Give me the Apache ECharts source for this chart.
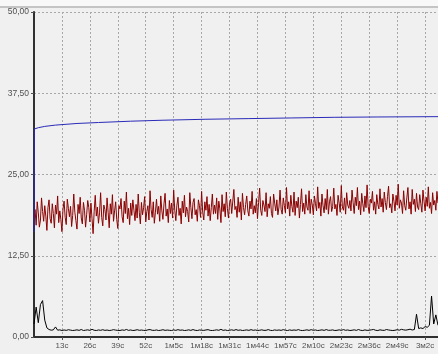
<!DOCTYPE html>
<html><head><meta charset="utf-8">
<script src="https://cdn.jsdelivr.net/npm/echarts@6/dist/echarts.min.js"></script>
<style>html,body{margin:0;padding:0;background:#f0f0f0;overflow:hidden}#c{width:438px;height:354px}</style>
</head><body><div id="c"></div>
<script>
const redStep = 0.5;   // seconds between red samples
const blackStep = 1;   // seconds between black samples
const yTicks = [0, 12.5, 25, 37.5, 50];
const xTickSeconds = [13, 26, 39, 52, 65, 78, 91, 104, 117, 130, 143, 156, 169, 182];

const blueTimes = [0, 0.15, 2, 5, 10, 20, 30, 45, 60, 80, 100, 120, 140, 160, 188];
const blueValues = [16.2, 32.0, 32.2, 32.4, 32.6, 32.85, 33.0, 33.2, 33.35, 33.5, 33.6, 33.7, 33.8, 33.85, 33.9];

const redValues = [
18.4, 19.6, 17.2, 20.8, 19.1, 16.9, 18.0, 21.4, 19.3, 17.8, 20.2, 18.6, 16.4, 19.9, 21.1, 18.2, 17.5, 20.5, 19.0, 16.8,
20.3, 18.9, 21.7, 17.6, 19.4, 18.1, 16.2, 19.7, 20.9, 18.4, 17.3, 21.2, 19.8, 18.5, 20.1, 17.0, 18.7, 22.0, 19.2, 17.9,
16.6, 20.4, 19.0, 21.5, 18.3, 17.4, 20.7, 19.5, 16.9, 18.8, 21.0, 19.9, 17.7, 20.6, 18.2, 15.9, 19.3, 21.8, 18.6, 20.0,
17.5, 19.1, 22.2, 18.4, 17.1, 20.3, 19.6, 18.0, 21.4, 19.2, 16.8, 20.5, 18.9, 21.9, 17.8, 19.4, 20.8, 18.1, 16.7, 20.2,
19.7, 21.3, 18.5, 17.6, 20.9, 19.0, 22.3, 18.2, 19.8, 17.3, 20.6, 18.7, 21.1, 19.5, 17.9, 20.4, 18.3, 22.0, 19.1, 17.4,
20.7, 18.8, 19.9, 21.6, 17.7, 19.3, 20.2, 18.0, 22.5, 19.6, 18.4, 20.8, 17.5, 19.2, 21.2, 18.9, 20.1, 17.8, 21.7, 19.4,
18.1, 20.5, 22.1, 18.6, 19.7, 17.6, 21.0, 19.0, 20.6, 18.3, 22.6, 19.5, 17.9, 20.3, 21.5, 18.7, 19.8, 17.4, 20.9, 19.1,
21.8, 18.5, 20.0, 19.3, 17.7, 22.2, 19.9, 18.2, 20.7, 21.3, 18.8, 19.6, 17.8, 21.1, 20.2, 18.4, 22.4, 19.2, 18.0, 20.8,
19.5, 21.6, 18.6, 20.4, 17.9, 19.9, 22.0, 18.9, 20.3, 19.0, 21.4, 18.1, 20.9, 19.7, 17.6, 21.9, 19.3, 20.5, 18.5, 22.3,
19.8, 18.3, 20.6, 21.2, 19.0, 18.7, 22.7, 19.6, 20.1, 18.4, 21.5, 19.2, 20.8, 18.0, 22.1, 19.9, 18.8, 20.4, 21.7, 19.4,
18.6, 20.9, 19.7, 22.4, 18.9, 20.2, 19.1, 21.3, 18.2, 20.7, 22.9, 19.5, 18.7, 21.0, 20.3, 19.3, 22.2, 18.5, 20.5, 19.8,
21.6, 19.0, 18.4, 22.0, 20.6, 19.4, 21.1, 18.8, 20.0, 22.6, 19.6, 18.9, 21.4, 20.2, 19.1, 23.0, 19.7, 20.8, 18.6, 21.8,
20.1, 19.2, 22.3, 18.7, 20.9, 19.9, 21.5, 18.3, 20.4, 22.8, 19.3, 20.6, 18.9, 21.9, 20.0, 19.5, 22.5, 19.0, 21.2, 20.3,
18.8, 21.7, 20.5, 19.4, 23.1, 19.8, 20.7, 18.6, 22.0, 20.2, 19.1, 21.3, 19.6, 22.7, 18.9, 20.8, 21.6, 19.3, 20.1, 22.9,
19.7, 20.4, 18.7, 21.8, 20.6, 19.2, 23.3, 20.0, 19.5, 21.4, 18.9, 22.2, 20.3, 19.8, 21.0, 19.4, 22.6, 20.7, 19.0, 21.5,
20.2, 23.0, 19.6, 20.9, 18.8, 22.1, 20.5, 19.3, 21.7, 19.9, 23.4, 20.1, 19.0, 21.2, 20.6, 22.4, 19.5, 20.8, 18.9, 21.9,
20.4, 19.7, 22.8, 20.0, 21.3, 19.2, 22.3, 20.7, 19.6, 21.6, 23.2, 19.9, 20.5, 19.1, 22.0, 20.9, 19.4, 21.8, 20.3, 23.5,
19.8, 21.1, 20.6, 19.0, 22.5, 20.2, 19.5, 21.4, 23.0, 19.7, 20.8, 18.9, 22.7, 20.4, 21.2, 19.3, 22.1, 20.0, 19.6, 21.9,
20.5, 19.2, 22.6, 20.9, 19.4, 21.5, 20.1, 23.1, 19.8, 20.7, 19.0, 22.2, 20.3, 21.0, 19.5, 22.4, 20.6
];

const blackValues = [
2.0, 4.6, 2.2, 5.0, 5.6, 2.6, 1.4, 1.15, 1.05, 1.1, 1.55, 1.05, 1.1, 1.0, 1.08, 1.02, 1.12, 1.06, 1.0, 1.04,
1.1, 1.02, 1.15, 1.0, 1.05, 1.1, 1.02, 1.18, 1.04, 1.0, 1.08, 1.03, 1.12, 1.02, 1.07, 1.0, 1.04, 1.13, 1.06, 1.02,
1.0, 1.09, 1.03, 1.16, 1.02, 1.08, 1.0, 1.04, 1.12, 1.03, 1.07, 1.02, 1.0, 1.1, 1.14, 1.03, 1.02, 1.08, 1.0, 1.04,
1.12, 1.02, 1.07, 1.03, 1.0, 1.09, 1.02, 1.13, 1.04, 1.08, 1.0, 1.03, 1.1, 1.02, 1.14, 1.03, 1.0, 1.08, 1.04, 1.02,
1.08, 1.13, 1.02, 1.0, 1.04, 1.1, 1.03, 1.18, 1.02, 1.08, 1.0, 1.04, 1.1, 1.02, 1.14, 1.03, 1.08, 1.0, 1.04, 1.09,
1.02, 1.13, 1.03, 1.08, 1.0, 1.04, 1.1, 1.02, 1.03, 1.14, 1.02, 1.0, 1.09, 1.03, 1.08, 1.02, 1.13, 1.04, 1.0, 1.09,
1.02, 1.08, 1.03, 1.14, 1.02, 1.0, 1.04, 1.1, 1.02, 1.13, 1.03, 1.08, 1.0, 1.04, 1.1, 1.02, 1.14, 1.03, 1.04, 1.09,
1.0, 1.03, 1.1, 1.02, 1.14, 1.03, 1.08, 1.0, 1.04, 1.1, 1.02, 1.15, 1.03, 1.0, 1.09, 1.02, 1.04, 1.1, 1.16, 1.03,
1.0, 1.1, 1.04, 1.02, 1.15, 1.08, 1.03, 1.0, 1.04, 1.12, 1.05, 1.18, 1.1, 1.06, 1.12, 1.2, 1.08, 1.15, 3.5, 1.3,
1.4, 1.3, 1.6, 1.5, 1.8, 6.3, 2.0, 3.4, 1.8
];

function fmtTime(v) {
  if (v <= 0 || xTickSeconds.indexOf(Math.round(v)) < 0) return '';
  const m = Math.floor(v / 60), s = Math.round(v - m * 60);
  return m > 0 ? m + 'м' + s + 'с' : s + 'с';
}

const redData = redValues.map((v, i) => [i * redStep, v]);
const blackData = blackValues.map((v, i) => [i * blackStep, v]);
const blueData = blueTimes.map((t, i) => [t, blueValues[i]]);

const chart = echarts.init(document.getElementById('c'), null, {renderer: 'canvas'});
chart.setOption({
  backgroundColor: '#f0f0f0',
  animation: false,
  grid: {left: 34, right: 0, top: 12, bottom: 17, containLabel: false},
  graphic: [
    {type: 'rect', shape: {x: 0, y: 0, width: 438, height: 6}, style: {fill: '#f8f8f8'}, z: -1},
    {type: 'rect', shape: {x: 0, y: 6, width: 438, height: 2}, style: {fill: '#c4c4c4'}, z: -1}
  ],
  xAxis: {
    type: 'value', min: 0, max: 188, interval: 13,
    axisLine: {show: true, onZero: false, lineStyle: {color: '#303030', width: 2}},
    axisTick: {show: true, length: 3, lineStyle: {color: '#505050'}},
    splitLine: {show: true, lineStyle: {color: '#a8a8a8', type: [2, 2], width: 1}},
    axisLabel: {formatter: fmtTime, color: '#505050', fontSize: 8, fontFamily: 'Liberation Sans', margin: 5, showMinLabel: false, showMaxLabel: false}
  },
  yAxis: {
    type: 'value', min: yTicks[0], max: yTicks[yTicks.length - 1], interval: 12.5,
    axisLine: {show: true, lineStyle: {color: '#303030', width: 2}},
    axisTick: {show: true, length: 3, lineStyle: {color: '#505050'}},
    splitLine: {show: true, lineStyle: {color: '#a8a8a8', type: [2, 2], width: 1}},
    axisLabel: {formatter: v => v.toFixed(2).replace('.', ','), color: '#505050', fontSize: 8.5, fontFamily: 'Liberation Sans', margin: 5}
  },
  series: [
    {type: 'line', data: blackData, showSymbol: false, lineStyle: {color: '#000000', width: 1}, z: 3},
    {type: 'line', data: redData, showSymbol: false, lineStyle: {color: '#8b0000', width: 1}, z: 4},
    {type: 'line', data: blueData, showSymbol: false, smooth: false, lineStyle: {color: '#2a2ab8', width: 1}, z: 5}
  ]
});
</script></body></html>
